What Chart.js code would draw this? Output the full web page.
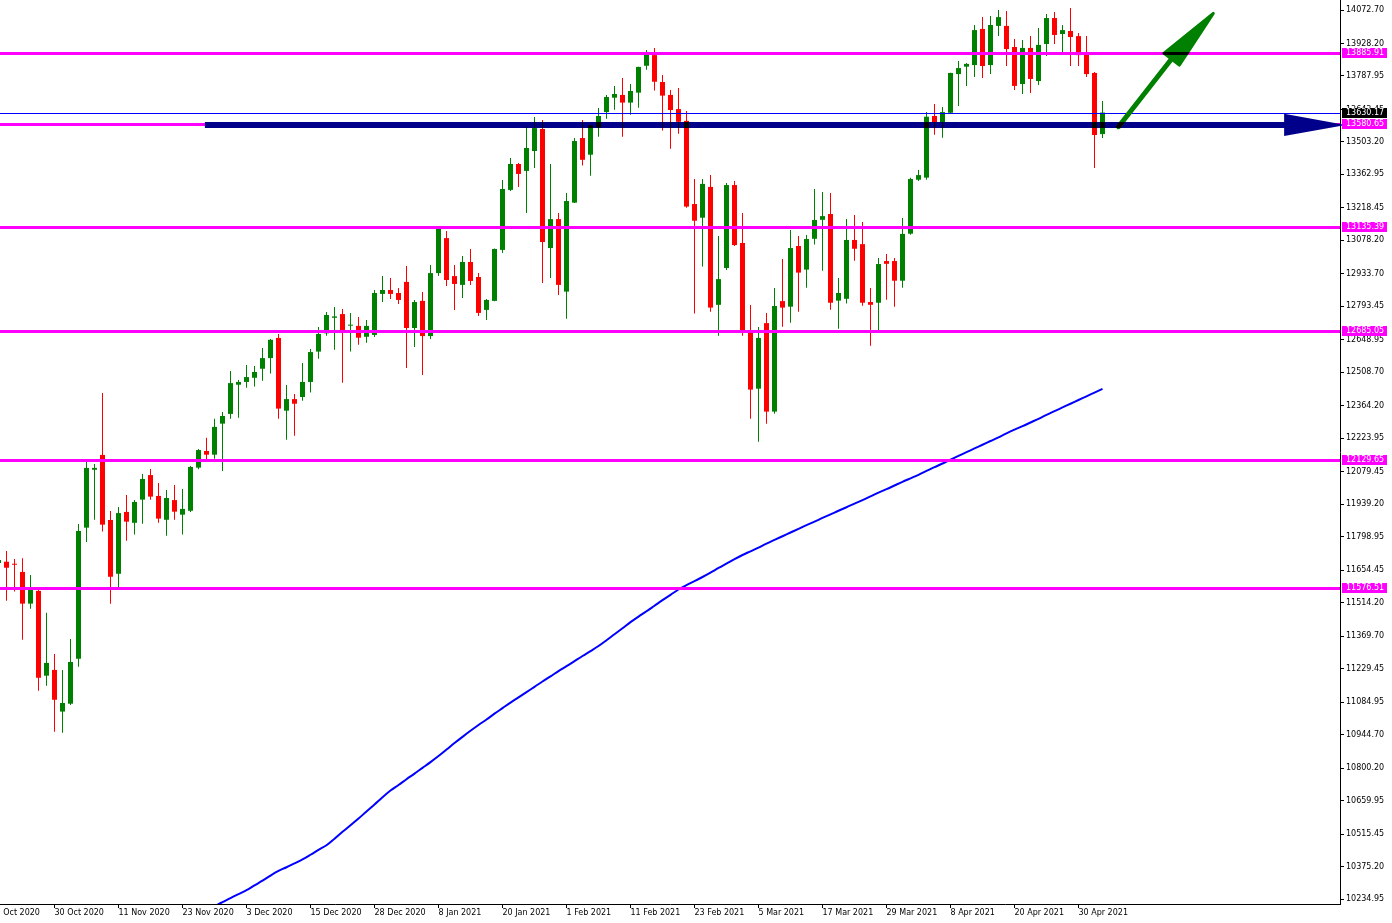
<!DOCTYPE html>
<html>
<head>
<meta charset="utf-8">
<script src="https://cdn.jsdelivr.net/npm/chart.js@4.4.0/dist/chart.umd.min.js"></script>
<style>
  html, body { margin: 0; padding: 0; background: #fff; overflow: hidden; }
  #wrap { width: 1392px; height: 923px; }
</style>
</head>
<body>
<div id="wrap"><canvas id="chart" width="1392" height="923"></canvas></div>
<script>
// daily candles, bar index 0 = 22 Oct 2020 (index -1 is the cut-off one at the left edge)
const firstBar = -1;
const opens = [11685, 11691, 11682, 11647, 11510, 11565, 11199, 11224, 11044, 11078, 11272, 11838, 12088, 12152, 11871, 11639, 11906, 11859, 11959, 12065,
  11975, 11872, 11957, 11894, 11911, 12097, 12169, 12153, 12287, 12329, 12455, 12467, 12485, 12524, 12570, 12657, 12343, 12393, 12402, 12467,
  12598, 12677, 12744, 12760, 12710, 12709, 12662, 12670, 12847, 12864, 12851, 12899, 12700, 12817, 12665, 12937, 13088, 12924, 12886, 12985,
  12920, 12778, 12817, 13037, 13296, 13408, 13378, 13464, 13559, 13045, 13170, 12857, 13241, 13520, 13448, 13566, 13632, 13694, 13706, 13673,
  13716, 13832, 13878, 13762, 13706, 13645, 13594, 13235, 13176, 13309, 12800, 12959, 13317, 13067, 12680, 12438, 12721, 12339, 12816, 12792,
  13054, 12952, 13085, 13167, 13192, 12818, 12826, 13080, 13062, 12812, 12809, 12989, 12989, 12904, 13107, 13340, 13349, 13615, 13589, 13629,
  13796, 13828, 13835, 13991, 13835, 14004, 14004, 13913, 13753, 13909, 13766, 13926, 14038, 13969, 13982, 13960, 13883, 13801, 13537];
const highs = [11716, 11737, 11703, 11706, 11634, 11572, 11471, 11293, 11224, 11357, 11854, 12123, 12113, 12419, 11910, 11927, 11979, 11957, 12070, 12091,
  12031, 12001, 12022, 12005, 12104, 12178, 12226, 12308, 12337, 12514, 12475, 12540, 12536, 12614, 12652, 12674, 12454, 12415, 12549, 12609,
  12704, 12769, 12791, 12782, 12765, 12747, 12734, 12864, 12924, 12916, 12873, 12968, 12821, 12855, 12972, 13140, 13119, 12972, 13011, 13041,
  12937, 12825, 13043, 13339, 13434, 13412, 13568, 13611, 13598, 13408, 13196, 13283, 13520, 13598, 13577, 13650, 13706, 13745, 13779, 13753,
  13828, 13900, 13909, 13792, 13727, 13736, 13637, 13343, 13343, 13360, 13097, 13326, 13335, 13196, 12799, 12704, 12765, 12873, 12998, 13123,
  13097, 13101, 13300, 13287, 13283, 12916, 13170, 13188, 13157, 12873, 13002, 13019, 13002, 13175, 13348, 13382, 13632, 13667, 13654, 13802,
  13853, 13844, 14008, 14042, 14047, 14073, 14068, 13948, 13943, 13960, 13995, 14055, 14064, 14008, 14081, 13973, 13960, 13805, 13680];
const lows = [11673, 11523, 11562, 11354, 11488, 11134, 11156, 10957, 10953, 11072, 11238, 11776, 11872, 11821, 11510, 11581, 11782, 11808, 11855, 11959,
  11859, 11803, 11872, 11808, 11906, 12090, 12133, 12136, 12083, 12308, 12313, 12442, 12447, 12472, 12503, 12308, 12218, 12235, 12386, 12421,
  12567, 12667, 12606, 12464, 12598, 12628, 12636, 12661, 12812, 12825, 12804, 12527, 12618, 12497, 12652, 12924, 12881, 12778, 12829, 12886,
  12752, 12734, 12815, 13024, 13291, 13309, 13196, 13391, 12894, 12916, 12842, 12740, 13239, 13401, 13357, 13526, 13603, 13642, 13526, 13621,
  13651, 13815, 13725, 13552, 13474, 13539, 13219, 12762, 12965, 12770, 12667, 12950, 13054, 12667, 12308, 12209, 12287, 12330, 12705, 12723,
  12770, 12874, 13060, 12947, 12779, 12697, 12806, 12990, 12796, 12623, 12688, 12822, 12792, 12874, 13103, 13334, 13340, 13534, 13521, 13625,
  13658, 13745, 13783, 13779, 13796, 13960, 13831, 13727, 13710, 13714, 13749, 13874, 13926, 13891, 13831, 13831, 13783, 13391, 13520];
const closes = [11698, 11665, 11678, 11510, 11573, 11190, 11254, 11095, 11081, 11258, 11824, 12096, 12096, 11851, 11626, 11901, 11864, 11949, 12048, 11972,
  11877, 11966, 11907, 11919, 12100, 12173, 12153, 12273, 12320, 12462, 12467, 12488, 12510, 12570, 12649, 12352, 12393, 12373, 12467, 12596,
  12674, 12756, 12750, 12691, 12714, 12658, 12709, 12851, 12864, 12847, 12821, 12700, 12812, 12665, 12937, 13132, 12907, 12890, 12985, 12903,
  12765, 12821, 13041, 13300, 13408, 13365, 13477, 13563, 13071, 13170, 12886, 13248, 13507, 13426, 13575, 13615, 13697, 13710, 13673, 13723,
  13827, 13886, 13763, 13703, 13641, 13590, 13224, 13163, 13322, 12788, 12911, 13317, 13058, 12688, 12434, 12657, 12339, 12795, 12788, 13045,
  12939, 13084, 13166, 13183, 12809, 12851, 13080, 13042, 12809, 12800, 12976, 12977, 12904, 13106, 13343, 13360, 13612, 13589, 13632, 13801,
  13822, 13840, 13986, 13831, 14008, 14042, 13904, 13745, 13909, 13775, 13922, 14038, 13965, 13986, 13956, 13878, 13796, 13533, 13630];

// moving average, starts at bar 26
const maFirstBar = 26;
const maValues = [10204, 10221, 10239, 10256, 10273, 10294, 10314, 10336, 10356, 10372, 10389, 10406, 10426, 10447, 10467, 10495, 10525, 10553, 10582, 10613,
  10643, 10674, 10703, 10727, 10752, 10776, 10801, 10826, 10852, 10880, 10908, 10935, 10961, 10986, 11010, 11035, 11059, 11083, 11105, 11128,
  11151, 11174, 11196, 11219, 11240, 11262, 11284, 11305, 11327, 11352, 11378, 11404, 11430, 11454, 11477, 11501, 11525, 11548, 11571, 11590,
  11607, 11625, 11644, 11664, 11683, 11702, 11720, 11736, 11752, 11769, 11785, 11801, 11817, 11833, 11849, 11864, 11880, 11895, 11911, 11926,
  11942, 11957, 11973, 11989, 12004, 12020, 12036, 12051, 12066, 12083, 12099, 12115, 12132, 12148, 12164, 12180, 12196, 12212, 12228, 12245,
  12261, 12276, 12292, 12308, 12325, 12341, 12357, 12373, 12389, 12405, 12421, 12437];

// horizontal levels and price tags
const levels = [13885.91, 13580.65, 13135.39, 12685.05, 12129.65, 11576.51];
const bidPrice = 13630.17;

// hand drawn objects: [bar, price]
const trendStart = [24.8, 13577];
const trendHeadBack = 159.7, trendHeadTip = 167.4, trendHeadHalf = 48;
const greenShaft = [[139.0, 13569], [145.6, 13860]];
const greenHead = [[144.7, 13886], [150.85, 14058], [146.6, 13835]];

const yTicks = [14072.70, 13928.20, 13787.95, 13643.45, 13503.20, 13362.95, 13218.45, 13078.20, 12933.70, 12793.45,
  12648.95, 12508.70, 12364.20, 12223.95, 12079.45, 11939.20, 11798.95, 11654.45, 11514.20, 11369.70,
  11229.45, 11084.95, 10944.70, 10800.20, 10659.95, 10515.45, 10375.20, 10234.95];
const xTickLabels = ['20 Oct 2020', '30 Oct 2020', '11 Nov 2020', '23 Nov 2020', '3 Dec 2020', '15 Dec 2020', '28 Dec 2020',
  '8 Jan 2021', '20 Jan 2021', '1 Feb 2021', '11 Feb 2021', '23 Feb 2021', '5 Mar 2021', '17 Mar 2021', '29 Mar 2021',
  '8 Apr 2021', '20 Apr 2021', '30 Apr 2021'];
const xTickFirstBar = -2, xTickStep = 8;

const bull = '#008000', bear = '#ff0000', navy = '#00008b', magenta = '#ff00ff';
const font = '"DejaVu Sans", sans-serif';

const colors = opens.map((o, i) => closes[i] >= o ? bull : bear);
const wickData = opens.map((o, i) => ({ x: firstBar + i, y: [lows[i], highs[i]] }));
const bodyData = opens.map((o, i) => ({ x: firstBar + i, y: [o, closes[i]] }));
const maData = maValues.map((v, i) => ({ x: maFirstBar + i, y: v }));

const drawings = {
  id: 'drawings',
  afterDatasetsDraw(chart) {
    const ctx = chart.ctx, xs = chart.scales.x, ys = chart.scales.y, a = chart.chartArea;
    const px = b => xs.getPixelForValue(b);
    const py = v => ys.getPixelForValue(v);
    ctx.save();
    ctx.beginPath();
    ctx.rect(a.left, a.top, a.right - a.left, a.bottom - a.top);
    ctx.clip();
    ctx.fillStyle = magenta;
    levels.forEach(v => ctx.fillRect(a.left, Math.round(py(v)) - 1, a.right - a.left, 3));
    ctx.fillStyle = '#0000ff';
    ctx.fillRect(a.left, Math.round(py(bidPrice)), a.right - a.left, 1);

    // navy trend line; candles under it come out black like in MT4
    const ty = Math.round(py(trendStart[1]));
    const x0 = px(trendStart[0]), x1 = px(trendHeadBack) + 2;
    ctx.fillStyle = navy;
    ctx.fillRect(x0, ty - 3, x1 - x0, 6);
    ctx.fillStyle = '#000';
    const band = (top, bot) => [Math.max(top, ty - 3), Math.min(bot, ty + 3)];
    opens.forEach((o, i) => {
      const cx = px(firstBar + i);
      if (cx < x0 || cx > x1) return;
      let [t, b] = band(py(highs[i]), py(lows[i]));
      if (b > t) ctx.fillRect(cx - 0.5, t, 1, b - t);
      [t, b] = band(py(Math.max(o, closes[i])), py(Math.min(o, closes[i])));
      if (b > t) ctx.fillRect(cx - 2.5, t, 5, b - t);
    });

    // green arrow
    const shaft = color => {
      ctx.strokeStyle = color;
      ctx.lineCap = 'round';
      ctx.lineWidth = 5;
      ctx.beginPath();
      ctx.moveTo(px(greenShaft[0][0]), py(greenShaft[0][1]));
      ctx.lineTo(px(greenShaft[1][0]), py(greenShaft[1][1]));
      ctx.stroke();
    };
    const head = color => {
      ctx.fillStyle = color;
      ctx.strokeStyle = color;
      ctx.lineJoin = 'round';
      ctx.lineWidth = 3;
      ctx.beginPath();
      greenHead.forEach((p, i) => i ? ctx.lineTo(px(p[0]), py(p[1])) : ctx.moveTo(px(p[0]), py(p[1])));
      ctx.closePath();
      ctx.fill();
      ctx.stroke();
    };
    shaft(bull);
    head(bull);
    ctx.save();
    ctx.beginPath();
    ctx.rect(a.left, ty - 3, a.right - a.left, 6);
    ctx.clip();
    shaft('#000');
    ctx.restore();
    ctx.save();
    ctx.beginPath();
    ctx.rect(a.left, Math.round(py(levels[0])) - 1, a.right - a.left, 3);
    ctx.clip();
    head('#000');
    ctx.restore();
    ctx.restore();

    // navy arrow head (pokes past the axis line)
    ctx.save();
    ctx.fillStyle = navy;
    ctx.beginPath();
    ctx.moveTo(px(trendHeadBack), py(trendStart[1] + trendHeadHalf));
    ctx.lineTo(px(trendHeadTip), ty);
    ctx.lineTo(px(trendHeadBack), py(trendStart[1] - trendHeadHalf));
    ctx.closePath();
    ctx.fill();
    ctx.restore();
  },
  afterDraw(chart) {
    const ctx = chart.ctx, ys = chart.scales.y, a = chart.chartArea;
    ctx.save();
    ctx.font = '8px ' + font;
    ctx.textBaseline = 'middle';
    ctx.textAlign = 'left';
    const tag = (v, bg) => {
      const y = Math.round(ys.getPixelForValue(v));
      ctx.fillStyle = bg;
      ctx.fillRect(a.right + 2, y - 5, 45, 10);
      ctx.fillStyle = '#ffffff';
      ctx.fillText(v.toFixed(2), a.right + 6, y);
    };
    tag(bidPrice, '#000000');
    levels.forEach(v => tag(v, magenta));
    ctx.restore();
  }
};

new Chart(document.getElementById('chart'), {
  type: 'bar',
  data: {
    datasets: [
      { type: 'line', data: maData, borderColor: '#0000ff', borderWidth: 2, pointRadius: 0, cubicInterpolationMode: 'monotone', order: 3 },
      { data: wickData, backgroundColor: colors, barThickness: 1, grouped: false, inflateAmount: 0, borderWidth: 0, order: 2 },
      { data: bodyData, backgroundColor: colors, barThickness: 5, grouped: false, inflateAmount: 0, borderWidth: 0, minBarLength: 1, order: 1 }
    ]
  },
  options: {
    responsive: false,
    animation: false,
    events: [],
    layout: { padding: 0 },
    plugins: { legend: { display: false }, tooltip: { enabled: false } },
    scales: {
      x: {
        type: 'linear',
        min: -0.8125,
        max: 166.6875,
        offset: false,
        grid: { display: true, offset: false, drawOnChartArea: false, drawTicks: true, tickLength: 4, color: '#000' },
        border: { display: true, color: '#000' },
        ticks: {
          autoSkip: false, maxRotation: 0, minRotation: 0, align: 'start', padding: 0,
          color: '#000', font: { family: font, size: 8 },
          callback: (v, i) => xTickLabels[i]
        },
        afterBuildTicks: s => { s.ticks = xTickLabels.map((l, j) => ({ value: xTickFirstBar + j * xTickStep })); },
        afterFit: s => { s.height = 19; s.paddingLeft = 0; s.paddingRight = 0; }
      },
      y: {
        type: 'linear',
        position: 'right',
        min: 10213.37,
        max: 14115.87,
        beginAtZero: false,
        grid: { display: true, drawOnChartArea: false, drawTicks: true, tickLength: 4, color: '#000' },
        border: { display: true, color: '#000' },
        ticks: {
          autoSkip: false, padding: 2, color: '#000', font: { family: font, size: 8 },
          callback: v => Number(v).toFixed(2)
        },
        afterBuildTicks: s => { s.ticks = yTicks.map(v => ({ value: v })); },
        afterFit: s => { s.width = 52; s.paddingTop = 0; s.paddingBottom = 0; }
      }
    }
  },
  plugins: [drawings]
});
</script>
</body>
</html>
